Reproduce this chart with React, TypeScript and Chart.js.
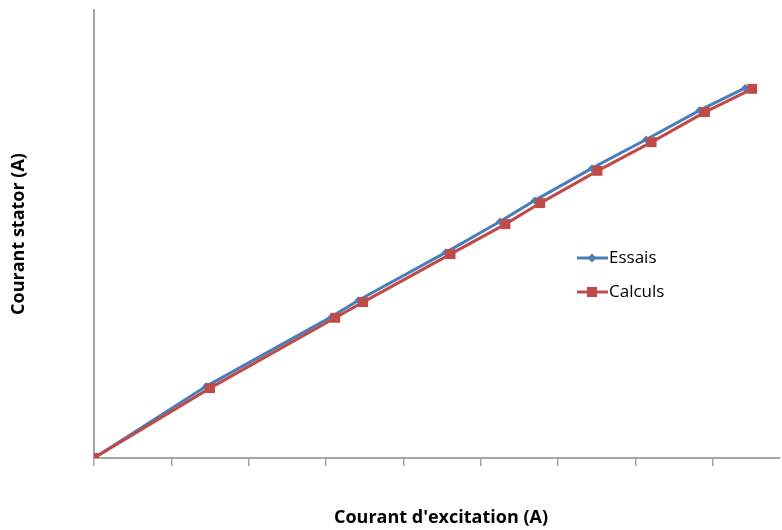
import React, { useEffect, useRef } from "react";
import { Chart, registerables } from "chart.js";
Chart.register(...registerables);

const essaisX = [0, 1.45, 3.07, 3.42, 4.55, 5.25, 5.70, 6.44, 7.14, 7.83, 8.42];
const essaisY = [0, 16.0, 31.5, 35.2, 45.9, 52.8, 57.5, 64.7, 71.1, 77.6, 82.6];
const calculsX = [0, 1.50, 3.12, 3.48, 4.61, 5.32, 5.77, 6.51, 7.21, 7.90, 8.51];
const calculsY = [0, 15.6, 31.3, 34.8, 45.5, 52.2, 56.9, 64.1, 70.5, 77.2, 82.4];
const seriesNames = ["Essais", "Calculs"];
const xTitle = "Courant d'excitation (A)";
const yTitle = "Courant stator (A)";

const BLUE = "#4a7ebb";
const RED = "#be4b48";
const FONT = "'Open Sans', 'DejaVu Sans', sans-serif";

const decorPlugin = {
  id: "decor",
  afterDraw(chart: any) {
    const ctx = chart.ctx;
    ctx.save();
    ctx.fillStyle = "#000";
    ctx.font = `bold 18px ${FONT}`;
    ctx.textAlign = "center";
    ctx.textBaseline = "middle";
    ctx.fillText(xTitle, 441, 518);
    ctx.translate(19, 234);
    ctx.rotate(-Math.PI / 2);
    ctx.fillText(yTitle, 0, 0);
    ctx.restore();

    ctx.save();
    const items = [
      { name: seriesNames[0], color: BLUE, y: 258, style: "diamond" },
      { name: seriesNames[1], color: RED, y: 292, style: "square" },
    ];
    for (const it of items) {
      ctx.strokeStyle = it.color;
      ctx.lineWidth = 3;
      ctx.beginPath();
      ctx.moveTo(577, it.y);
      ctx.lineTo(608, it.y);
      ctx.stroke();
      ctx.fillStyle = it.color;
      if (it.style === "diamond") {
        ctx.beginPath();
        ctx.moveTo(592, it.y - 4.5);
        ctx.lineTo(596.5, it.y);
        ctx.lineTo(592, it.y + 4.5);
        ctx.lineTo(587.5, it.y);
        ctx.closePath();
        ctx.fill();
      } else {
        ctx.fillRect(587, it.y - 5, 10, 10);
      }
      ctx.fillStyle = "#000";
      ctx.font = `17px ${FONT}`;
      ctx.textAlign = "left";
      ctx.textBaseline = "middle";
      ctx.fillText(it.name, 609, it.y);
    }
    ctx.restore();
  },
};

export default function App() {
  const ref = useRef<HTMLCanvasElement>(null);
  useEffect(() => {
    if (!ref.current) return;
    const chart = new Chart(ref.current, {
      type: "scatter",
      data: {
        datasets: [
          {
            label: seriesNames[1],
            data: calculsX.map((x, i) => ({ x, y: calculsY[i] })),
            showLine: true,
            borderColor: RED,
            backgroundColor: RED,
            borderWidth: 3,
            pointStyle: "rect",
            pointRadius: 7,
            pointBorderWidth: 0,
            order: 0,
          },
          {
            label: seriesNames[0],
            data: essaisX.map((x, i) => ({ x, y: essaisY[i] })),
            showLine: true,
            borderColor: BLUE,
            backgroundColor: BLUE,
            borderWidth: 3,
            pointStyle: "rectRot",
            pointRadius: 4,
            pointBorderWidth: 0,
            order: 1,
          },
        ],
      },
      options: {
        animation: false,
        responsive: false,
        layout: { autoPadding: false, padding: { left: 94, top: 10, right: 2, bottom: 64 } },
        plugins: { legend: { display: false }, tooltip: { enabled: false } },
        scales: {
          x: {
            type: "linear",
            min: 0,
            max: 8.87,
            afterBuildTicks: (scale: any) => {
              scale.ticks = scale.ticks.filter((t: any) => Math.abs(t.value - Math.round(t.value)) < 1e-6);
            },
            ticks: { display: false, stepSize: 1 },
            grid: {
              drawOnChartArea: false,
              drawTicks: true,
              tickLength: 8,
              color: "#a6a6a6",
              lineWidth: 1.5,
            },
            border: { display: true, color: "#a6a6a6", width: 2 },
          },
          y: {
            type: "linear",
            min: 0,
            max: 100,
            ticks: { display: false },
            grid: { display: false, drawTicks: false },
            border: { display: true, color: "#a6a6a6", width: 2 },
          },
        },
      },
      plugins: [decorPlugin],
    });
    return () => chart.destroy();
  }, []);
  return (
    <div style={{ position: "fixed", left: 0, top: 0, width: 782, height: 530, background: "#fff" }}>
      <canvas ref={ref} width={782} height={530} style={{ width: 782, height: 530 }} />
    </div>
  );
}
